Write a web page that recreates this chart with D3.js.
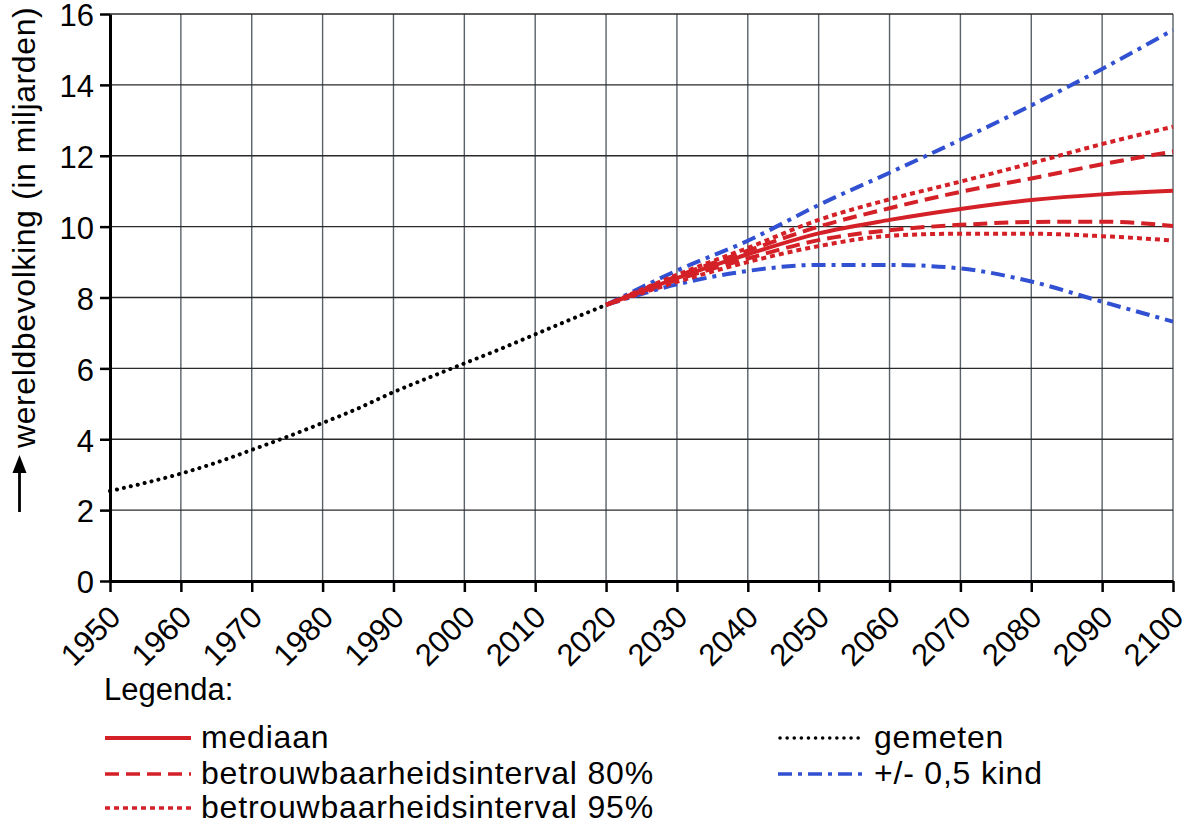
<!DOCTYPE html>
<html lang="nl">
<head>
  <meta charset="UTF-8">
  <script src="https://d3js.org/d3.v7.min.js"></script>
  <title>Wereldbevolking</title>
  <style>
    body { margin: 0; background: white; }
    text { font-family: "Liberation Sans", Arial, sans-serif; fill: black; }
    .tick text { font-size: 31px; }
    .legend text { font-size: 32px; letter-spacing: 0.8px; }
  </style>
</head>
<body>
  <div id="chart"></div>
  <script>
    // gemeten wereldbevolking (miljard)
    const measuredYears = [1950, 1955, 1960, 1965, 1970, 1975, 1980, 1985, 1990, 1995, 2000, 2005, 2010, 2015, 2020];
    const measured = [2.54, 2.77, 3.03, 3.34, 3.70, 4.07, 4.46, 4.87, 5.33, 5.74, 6.14, 6.54, 6.96, 7.38, 7.79];

    // prognoses
    const years = [2020, 2030, 2040, 2050, 2060, 2070, 2080, 2090, 2100];
    const median = [7.79, 8.55, 9.22, 9.81, 10.19, 10.50, 10.75, 10.91, 11.01];
    const hi80 = [7.79, 8.60, 9.32, 10.00, 10.52, 10.98, 11.36, 11.76, 12.12];
    const lo80 = [7.79, 8.50, 9.10, 9.62, 9.90, 10.05, 10.13, 10.14, 10.02];
    const hi95 = [7.79, 8.64, 9.40, 10.19, 10.77, 11.27, 11.79, 12.33, 12.82];
    const lo95 = [7.79, 8.44, 9.00, 9.45, 9.74, 9.80, 9.80, 9.73, 9.61];
    const hiKind = [7.79, 8.76, 9.60, 10.61, 11.52, 12.45, 13.42, 14.45, 15.55];
    const loKind = [7.79, 8.37, 8.75, 8.92, 8.92, 8.82, 8.45, 7.88, 7.32];

    const xTicks = d3.range(1950, 2101, 10);
    const yTicks = d3.range(0, 17, 2);

    const red = "#d42027", blue = "#3150d2";

    const margin = { top: 14, left: 110 };
    const width = 1063, height = 567;

    const root = d3.select("#chart").append("svg")
      .attr("width", 1200).attr("height", 834);
    const svg = root.append("g")
      .attr("transform", `translate(${margin.left},${margin.top})`);

    const x = d3.scaleLinear().domain([1950, 2100]).range([0, width]);
    const y = d3.scaleLinear().domain([0, 16]).range([height, 0]);

    // grid
    svg.append("g").selectAll("line").data(xTicks.slice(1)).join("line")
      .attr("x1", d => x(d)).attr("x2", d => x(d))
      .attr("y1", 0).attr("y2", height)
      .attr("stroke", "#5a6168").attr("stroke-width", 1.4);
    svg.append("g").selectAll("line").data(yTicks.slice(1)).join("line")
      .attr("x1", 0).attr("x2", width)
      .attr("y1", d => y(d)).attr("y2", d => y(d))
      .attr("stroke", "#2a2a2a").attr("stroke-width", 1.4);

    // series
    const line = d3.line().curve(d3.curveMonotoneX);
    const series = [
      { xs: years, v: hiKind, color: blue, dash: "14,6,4,6" },
      { xs: years, v: loKind, color: blue, dash: "14,6,4,6" },
      { xs: years, v: hi95, color: red, dash: "5,4" },
      { xs: years, v: lo95, color: red, dash: "5,4" },
      { xs: years, v: hi80, color: red, dash: "14,7" },
      { xs: years, v: lo80, color: red, dash: "14,7" },
      { xs: years, v: median, color: red, dash: null },
      { xs: measuredYears, v: measured, color: "black", dash: "0.1,7", cap: "round" }
    ];
    series.forEach(s => {
      svg.append("path")
        .attr("d", line(s.xs.map((yr, i) => [x(yr), y(s.v[i])])))
        .attr("fill", "none")
        .attr("stroke", s.color)
        .attr("stroke-width", 4)
        .attr("stroke-dasharray", s.dash)
        .attr("stroke-linecap", s.cap || "butt");
    });

    // axes
    const yAxis = svg.append("g")
      .call(d3.axisLeft(y).tickValues(yTicks).tickSize(10).tickSizeOuter(0).tickPadding(6));
    const xAxis = svg.append("g")
      .attr("transform", `translate(0,${height})`)
      .call(d3.axisBottom(x).tickValues(xTicks).tickFormat(d3.format("d")).tickSize(11).tickSizeOuter(0));
    [yAxis, xAxis].forEach(g => {
      g.select(".domain").attr("stroke", "black").attr("stroke-width", 3);
      g.selectAll(".tick line").attr("stroke", "black").attr("stroke-width", 2.5);
    });
    yAxis.selectAll(".tick text").attr("dy", "0.38em");
    xAxis.selectAll(".tick text")
      .attr("text-anchor", "end")
      .attr("y", 0).attr("dy", 0)
      .attr("transform", "translate(12,38) rotate(-45)");

    // y label with arrow
    root.append("line")
      .attr("x1", 19.5).attr("x2", 19.5).attr("y1", 512).attr("y2", 468)
      .attr("stroke", "black").attr("stroke-width", 2.8);
    root.append("path")
      .attr("d", "M19.5,455 L12.5,473 L26.5,473 Z")
      .attr("fill", "black");
    root.append("text")
      .attr("transform", "translate(35,448) rotate(-90)")
      .attr("text-anchor", "start")
      .style("font-size", "32px")
      .style("letter-spacing", "0.6px")
      .text("wereldbevolking (in miljarden)");

    // legend
    const legend = root.append("g").attr("class", "legend");
    legend.append("text").attr("x", 104).attr("y", 700)
      .style("font-size", "31px").style("letter-spacing", "0px").text("Legenda:");
    const items = [
      { x: 105, y: 748, label: "mediaan", color: red, dash: null },
      { x: 105, y: 784, label: "betrouwbaarheidsinterval 80%", color: red, dash: "14,7" },
      { x: 105, y: 818, label: "betrouwbaarheidsinterval 95%", color: red, dash: "5,4" },
      { x: 778, y: 748, label: "gemeten", color: "black", dash: "0.1,7", cap: "round" },
      { x: 778, y: 784, label: "+/- 0,5 kind", color: blue, dash: "14,6,4,6" }
    ];
    items.forEach(d => {
      legend.append("line")
        .attr("x1", d.x + (d.cap ? 2 : 0)).attr("x2", d.x + 86)
        .attr("y1", d.y - 10).attr("y2", d.y - 10)
        .attr("stroke", d.color).attr("stroke-width", d.dash ? 3.5 : 4)
        .attr("stroke-dasharray", d.dash)
        .attr("stroke-linecap", d.cap || "butt");
      legend.append("text").attr("x", d.x + 96).attr("y", d.y).text(d.label);
    });
  </script>
</body>
</html>
